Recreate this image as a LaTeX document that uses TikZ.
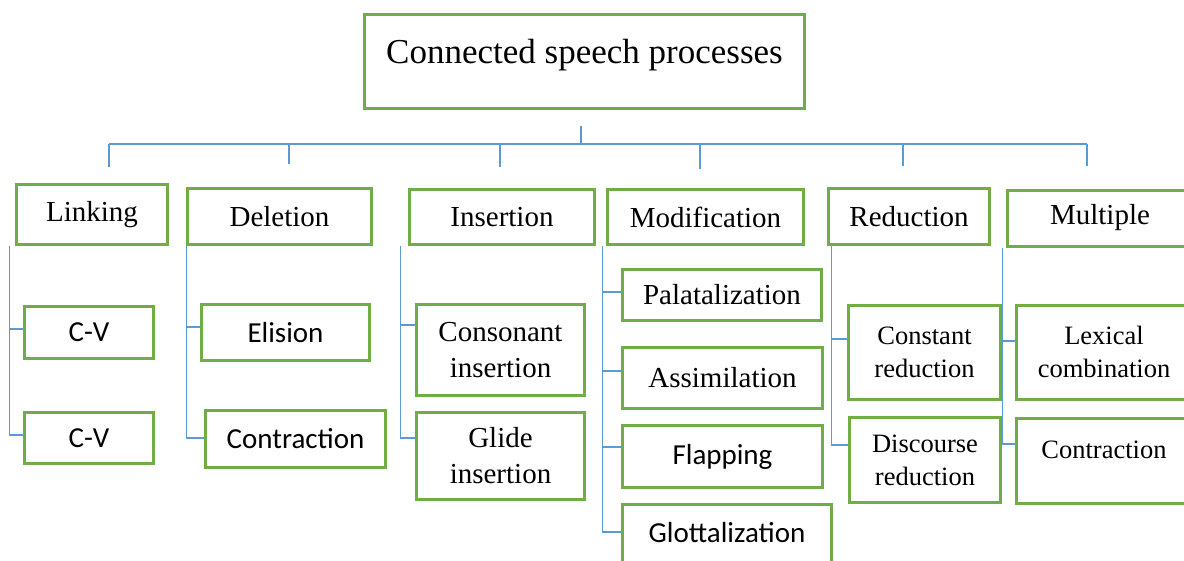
\documentclass[tikz,border=0pt]{standalone}
\usepackage{fontspec}
\setmainfont{Liberation Serif}
\newfontfamily\calibri{Carlito}
\definecolor{boxgreen}{HTML}{70AD47}
\definecolor{linkblue}{HTML}{5B9BD5}
\begin{document}
\begin{tikzpicture}[
		x=1pt, y=-1pt,
		font=\fontsize{29}{36}\selectfont,
		box/.style={rectangle, draw=boxgreen, line width=3pt, inner sep=0pt, align=center},
		sbox/.style={box, font=\fontsize{29}{36}\selectfont\calibri},
		rbox/.style={box, font=\fontsize{26.5}{33}\selectfont},
		conn/.style={draw=linkblue, line width=1.3pt}
	]
		\useasboundingbox (0,0) rectangle (1184,560);
		\node[box, minimum width=440pt, minimum height=94pt, font=\fontsize{35}{42}\selectfont, text height=26pt, text depth=22pt] (title) at (584.5,61.5) {Connected speech processes};
		% first level
		\node[box, minimum width=151pt, minimum height=60pt] (linking) at (92,214.5) {Linking};
		\node[box, minimum width=184pt, minimum height=56pt] (deletion) at (279.5,216.5) {Deletion};
		\node[box, minimum width=185pt, minimum height=55pt] (insertion) at (502,217) {Insertion};
		\node[box, minimum width=196pt, minimum height=55pt] (modification) at (705.5,217) {Modification};
		\node[box, minimum width=161pt, minimum height=56pt] (reduction) at (909,216.5) {Reduction};
		\node[box, minimum width=185pt, minimum height=56pt] (multiple) at (1100,218) {Multiple};
		% second level
		\node[sbox, minimum width=129pt, minimum height=52pt] (cv1) at (89,332.5) {C-V};
		\node[sbox, minimum width=129pt, minimum height=51pt] (cv2) at (89,438) {C-V};
		\node[sbox, minimum width=168pt, minimum height=56pt] (elision) at (285.5,332.5) {Elision};
		\node[sbox, minimum width=180pt, minimum height=57pt] (contrDel) at (295.5,439) {Contraction};
		\node[box, minimum width=168pt, minimum height=91pt] (consIns) at (500.5,350) {Consonant\\insertion};
		\node[box, minimum width=168pt, minimum height=87pt] (glideIns) at (500.5,456) {Glide\\insertion};
		\node[box, minimum width=199pt, minimum height=51pt] (palat) at (722,295) {Palatalization};
		\node[box, minimum width=200pt, minimum height=61pt] (assim) at (722.5,378) {Assimilation};
		\node[sbox, minimum width=200pt, minimum height=62pt] (flap) at (722.5,456.5) {Flapping};
		\node[sbox, minimum width=209pt, minimum height=72pt] (glott) at (727,540) {\raisebox{16pt}{Glottalization}};
		\node[rbox, minimum width=152pt, minimum height=94pt] (constRed) at (924.5,352) {Constant\\reduction};
		\node[rbox, minimum width=151pt, minimum height=85pt] (discRed) at (925,460) {Discourse\\reduction};
		\node[rbox, minimum width=175pt, minimum height=94pt] (lexComb) at (1104,352) {Lexical\\combination};
		\node[rbox, minimum width=175pt, minimum height=85pt, text height=19pt, text depth=25pt] (contrMul) at (1104,461) {Contraction};
		% bus under the title
		\coordinate (busL) at (109,144);
		\coordinate (busR) at (1087,144);
		\draw[conn] (busL) -- (busR);
		\coordinate (stub) at ([xshift=-3.5pt,yshift=-15.5pt]title.south);
		\draw[conn] (stub) -- (stub |- busL);
		\foreach \n/\dx/\gap [count=\i] in {linking/17/16.5, deletion/9.5/23.5, insertion/-2/21.5, modification/-5.5/19.5, reduction/-6/21.5, multiple/-13/23}{
			\coordinate (drop\i) at ([xshift=\dx pt]\n.north);
			\draw[conn] (drop\i |- busL) -- ([yshift=\gap pt]drop\i);
		}
		% branches
		\coordinate (spLink) at ([xshift=-5.5pt]linking.south west);
		\draw[conn] (spLink) |- ([yshift=3.5pt]cv1.west);
		\draw[conn] (spLink) |- ([yshift=3pt]cv2.west);
		\coordinate (spDel) at ([xshift=0.5pt]deletion.south west);
		\draw[conn] (spDel) |- ([yshift=5.5pt]elision.west);
		\draw[conn] (spDel) |- ([yshift=1pt]contrDel.west);
		\coordinate (spIns) at ([xshift=-7.5pt]insertion.south west);
		\draw[conn] (spIns) |- ([yshift=25pt]consIns.west);
		\draw[conn] (spIns) |- ([yshift=18pt]glideIns.west);
		\coordinate (spMod) at ([xshift=-3.5pt]modification.south west);
		\draw[conn] (spMod) |- ([yshift=3pt]palat.west);
		\draw[conn] (spMod) |- ([yshift=7pt]assim.west);
		\draw[conn] (spMod) |- ([yshift=9.5pt]flap.west);
		\draw[conn] (spMod) |- ([yshift=8pt]glott.west);
		\coordinate (spRed) at ([xshift=4.5pt]reduction.south west);
		\draw[conn] (spRed) |- ([yshift=13pt]constRed.west);
		\draw[conn] (spRed) |- ([yshift=15pt]discRed.west);
		\coordinate (spMul) at ([xshift=-3.5pt]multiple.south west);
		\draw[conn] (spMul) |- ([yshift=11pt]lexComb.west);
		\draw[conn] (spMul) |- ([yshift=17pt]contrMul.west);
	\end{tikzpicture}
\end{document}
